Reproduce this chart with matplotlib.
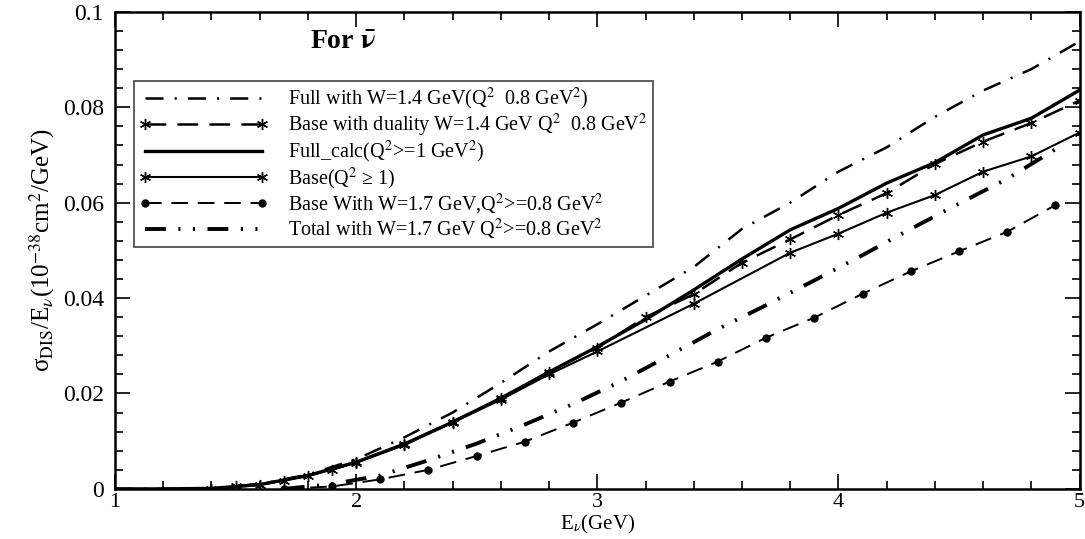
import matplotlib
matplotlib.use("Agg")
import matplotlib.pyplot as plt
from matplotlib.ticker import MultipleLocator, FormatStrFormatter

plt.rcParams["font.family"] = ["Liberation Serif", "STIXGeneral", "DejaVu Serif"]
plt.rcParams["mathtext.fontset"] = "stix"
plt.rcParams["lines.scale_dashes"] = False

# Full with W=1.4 GeV (dash-dot)
full14_x = [1.0, 1.2, 1.4, 1.6, 1.8, 2.0, 2.2, 2.4, 2.6, 2.8, 3.0, 3.2, 3.4, 3.6,
            3.8, 4.0, 4.2, 4.4, 4.6, 4.8, 5.0]
full14_y = [0.0, 0.0, 0.0, 0.0010, 0.0030, 0.0062, 0.0108, 0.0160, 0.0222, 0.0288,
            0.0345, 0.0405, 0.0465, 0.0545, 0.0600, 0.0665, 0.0716, 0.0780, 0.0835,
            0.0880, 0.0938]

# Base with duality W=1.4 GeV (dashed, asterisks)
dual_x = [1.5, 1.7, 1.9, 2.0, 2.2, 2.4, 2.6, 2.8, 3.0, 3.2, 3.4, 3.6, 3.8, 4.0,
          4.2, 4.4, 4.6, 4.8, 5.0]
dual_y = [0.0005, 0.0017, 0.0040, 0.0056, 0.0094, 0.0141, 0.0190, 0.0246, 0.0296,
          0.0360, 0.0408, 0.0474, 0.0523, 0.0574, 0.0620, 0.0681, 0.0728, 0.0767,
          0.0814]

# Full_calc (solid, thick)
fullc_x = [1.0, 1.2, 1.4, 1.6, 1.8, 2.0, 2.2, 2.4, 2.6, 2.8, 3.0, 3.2, 3.4, 3.6,
           3.8, 4.0, 4.2, 4.4, 4.6, 4.8, 5.0]
fullc_y = [0.0, 0.0, 0.0001, 0.0009, 0.0028, 0.0056, 0.0094, 0.0140, 0.0190, 0.0245,
           0.0298, 0.0355, 0.0417, 0.0482, 0.0543, 0.0588, 0.0641, 0.0684, 0.0742,
           0.0777, 0.0836]

# Base (Q^2 >= 1) (solid, asterisks)
base_x = [1.4, 1.6, 1.8, 2.0, 2.2, 2.4, 2.6, 2.8, 3.0, 3.4, 3.8, 4.0, 4.2, 4.4,
          4.6, 4.8, 5.0]
base_y = [0.0, 0.0008, 0.0027, 0.0055, 0.0092, 0.0139, 0.0187, 0.0240, 0.0288,
          0.0388, 0.0495, 0.0535, 0.0579, 0.0616, 0.0665, 0.0697, 0.0747]

# Base With W=1.7 GeV (dashed, circles)
b17_x = [1.7, 1.9, 2.1, 2.3, 2.5, 2.7, 2.9, 3.1, 3.3, 3.5, 3.7, 3.9, 4.1, 4.3,
         4.5, 4.7, 4.9]
b17_y = [0.0, 0.0005, 0.0020, 0.0040, 0.0069, 0.0099, 0.0139, 0.0181, 0.0225,
         0.0267, 0.0317, 0.0359, 0.0409, 0.0456, 0.0498, 0.0539, 0.0595]

# Total with W=1.7 GeV (dash-dot-dot, thick)
tot17_x = [1.7, 1.9, 2.1, 2.3, 2.5, 2.7, 2.9, 3.1, 3.3, 3.5, 3.7, 3.9, 4.1, 4.3,
           4.5, 4.7, 4.9]
tot17_y = [0.0, 0.0010, 0.0028, 0.0060, 0.0095, 0.0135, 0.0178, 0.0226, 0.0280,
           0.0335, 0.0385, 0.0437, 0.0490, 0.0545, 0.0598, 0.0650, 0.0712]

LABELS = [
    r"Full with W=1.4 GeV(Q$^2$  0.8 GeV$^2$)",
    r"Base with duality W=1.4 GeV Q$^2$  0.8 GeV$^2$",
    r"Full_calc(Q$^2$>=1 GeV$^2$)",
    r"Base(Q$^2$ ≥ 1)",
    r"Base With W=1.7 GeV,Q$^2$>=0.8 GeV$^2$",
    r"Total with W=1.7 GeV Q$^2$>=0.8 GeV$^2$",
]

STAR = (6, 2, 0)

fig = plt.figure(figsize=(10.85, 5.39), dpi=100)
ax = fig.add_axes([0.106, 0.093, 0.889, 0.885])

ax.plot(full14_x, full14_y, color="black", lw=1.8, ls=(0, (13, 8, 1.5, 8)),
        label=LABELS[0])
ax.plot(dual_x, dual_y, color="black", lw=1.8, ls=(0, (15, 8)),
        marker=STAR, ms=8, mew=1.0, label=LABELS[1])
ax.plot(fullc_x, fullc_y, color="black", lw=2.4, ls="-", label=LABELS[2])
ax.plot(base_x, base_y, color="black", lw=1.5, ls="-",
        marker=STAR, ms=8, mew=1.0, label=LABELS[3])
ax.plot(b17_x, b17_y, color="black", lw=1.4, ls=(0, (12, 7)),
        marker="o", ms=5, label=LABELS[4])
ax.plot(tot17_x, tot17_y, color="black", lw=2.8, ls=(0, (15, 9, 1.5, 9, 1.5, 9)),
        label=LABELS[5])

ax.set_xlim(1, 5)
ax.set_ylim(0, 0.1)
ax.xaxis.set_major_locator(MultipleLocator(1))
ax.xaxis.set_minor_locator(MultipleLocator(0.2))
ax.yaxis.set_major_locator(MultipleLocator(0.02))
ax.yaxis.set_minor_locator(MultipleLocator(0.004))
ax.xaxis.set_major_formatter(FormatStrFormatter("%g"))
ax.yaxis.set_major_formatter(FormatStrFormatter("%g"))

ax.tick_params(which="both", direction="in", top=True, right=True, width=1.2,
               labelsize=17)
ax.tick_params(which="major", length=11)
ax.tick_params(which="minor", length=6)
ax.tick_params(axis="y", pad=8)
ax.tick_params(axis="x", pad=3, labelsize=16)
for sp in ax.spines.values():
    sp.set_linewidth(1.8)

ax.set_xlabel(r"E$_{\nu}$(GeV)", fontsize=15)
ax.xaxis.set_label_coords(0.5, -0.05)
ax.set_ylabel(r"σ$_{\mathrm{DIS}}$/E$_{\nu}$(10$^{-38}$cm$^2$/GeV)",
              fontsize=18, labelpad=4)

ax.text(1.81, 0.0935, r"For $\mathbf{\bar{\nu}}$", fontsize=20, fontweight="bold",
        ha="left", va="center")

leg = ax.legend(loc="upper left", bbox_to_anchor=(0.0197, 0.855), borderaxespad=0,
                fontsize=14.5, numpoints=2, handlelength=6.4, handletextpad=1.0,
                labelspacing=0.0, fancybox=False, framealpha=1,
                edgecolor="#444444", borderpad=0.25)
leg.get_frame().set_linewidth(1.2)

fig.savefig("out.png", dpi=100)
